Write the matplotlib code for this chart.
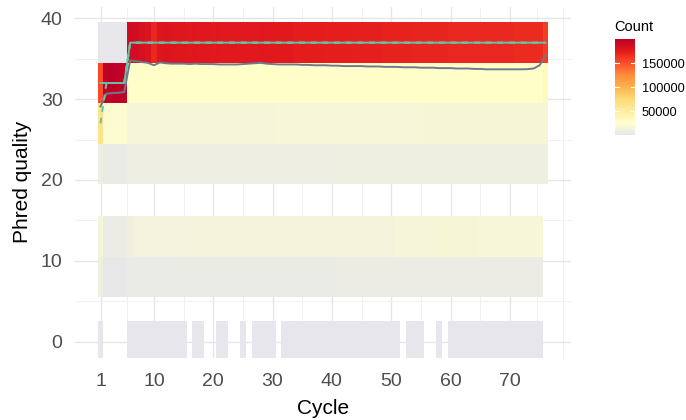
import numpy as np
import matplotlib.pyplot as plt
from matplotlib.colors import LinearSegmentedColormap

plt.rcParams['font.family'] = ['Liberation Sans', 'DejaVu Sans']

cycles = list(range(1, 77))
quals = [0, 8, 13, 22, 27, 32, 37]

# read counts per cycle, in thousands (None = no reads in that bin)
q0 = [0.5, None, None, None, None, 0.5, 0.5, 0.5, 0.5, 0.5,
      0.5, 0.5, 0.5, 0.5, 0.5, None, 0.5, 0.5, None, None,
      0.5, 0.5, None, None, 0.5, None, 0.5, 0.5, 0.5, 0.5,
      None, 0.5, 0.5, 0.5, 0.5, 0.5, 0.5, 0.5, 0.5, 0.5,
      0.5, 0.5, 0.5, 0.5, 0.5, 0.5, 0.5, 0.5, 0.5, 0.5,
      0.5, None, 0.5, 0.5, 0.5, None, None, 0.5, None, 0.5,
      0.5, 0.5, 0.5, 0.5, 0.5, 0.5, 0.5, 0.5, 0.5, 0.5,
      0.5, 0.5, 0.5, 0.5, 0.5, None]
q8 = [10, 3, 3, 3, 3, 4, 4, 4, 4, 4,
      4, 4, 5, 5, 5, 5, 5, 5, 5, 5,
      6, 6, 6, 6, 6, 6, 6, 6, 6, 6,
      6, 6, 6, 6, 6, 6, 6, 6, 6, 6,
      7, 7, 7, 7, 7, 7, 7, 7, 7, 7,
      7, 7, 7, 7, 7, 7, 7, 7, 7, 7,
      7, 7, 7, 7, 7, 7, 7, 7, 7, 7,
      7, 7, 7, 7, 7, None]
q13 = [15, 7, 7, 7, 7, 10, 12, 12, 12, 12,
       12, 12, 12, 12, 12, 13, 13, 13, 13, 13,
       13, 13, 13, 13, 13, 13, 13, 13, 13, 13,
       14, 14, 14, 14, 14, 14, 14, 14, 14, 14,
       14, 14, 14, 14, 14, 14, 14, 14, 14, 14,
       15, 15, 15, 15, 15, 15, 15, 17, 17, 17,
       17, 17, 17, 17, 16, 16, 16, 16, 16, 16,
       16, 16, 16, 16, 16, None]
q22 = [8, 6, 6, 6, 6, 8, 8, 8, 8, 8,
       8, 8, 8, 8, 8, 8, 8, 8, 8, 8,
       8, 8, 8, 8, 8, 8, 8, 8, 8, 8,
       8, 8, 8, 8, 8, 8, 8, 8, 8, 9,
       9, 9, 9, 9, 9, 9, 9, 9, 9, 9,
       9, 9, 9, 9, 9, 9, 9, 9, 9, 9,
       9, 9, 9, 9, 9, 9, 9, 9, 9, 9,
       9, 9, 9, 9, 9, 9]
q27 = [62, 22, 22, 22, 22, 15, 15, 15, 15, 15,
       15, 15, 15, 15, 15, 15, 15, 15, 15, 15,
       15, 15, 15, 15, 15, 15, 15, 15, 15, 15,
       16, 16, 16, 16, 16, 16, 16, 16, 16, 16,
       16, 16, 16, 16, 16, 16, 16, 16, 16, 16,
       16, 16, 16, 16, 16, 17, 17, 17, 17, 17,
       17, 17, 17, 17, 17, 17, 17, 17, 17, 17,
       17, 17, 17, 17, 17, 17]
q32 = [152, 199, 200, 199, 198, 27, 27, 27, 27, 28,
       27, 27, 27, 27, 27, 27, 27, 27, 27, 27,
       27, 27, 27, 27, 27, 27, 27, 27, 27, 27,
       27, 27, 27, 27, 27, 27, 27, 27, 27, 27,
       28, 28, 28, 28, 28, 28, 28, 28, 28, 28,
       28, 28, 28, 28, 28, 28, 28, 28, 28, 28,
       28, 28, 28, 28, 28, 28, 28, 28, 28, 28,
       28, 28, 28, 28, 29, 33]
q37 = [1, 1, 1, 1, 1, 188, 186, 184, 180, 168,
       179, 180, 179, 178, 178, 177, 178, 177, 177, 176,
       177, 176, 176, 176, 175, 176, 176, 177, 176, 175,
       175, 175, 175, 174, 174, 174, 174, 174, 173, 173,
       173, 173, 173, 172, 172, 172, 172, 172, 171, 171,
       171, 171, 171, 170, 170, 170, 170, 170, 170, 169,
       169, 169, 169, 168, 168, 168, 168, 168, 168, 168,
       167, 167, 167, 167, 166, 158]

mean_q = [29.1, 30.7, 30.75, 30.8, 30.9, 34.8, 34.7, 34.6, 34.5, 34.2,
          34.55, 34.45, 34.4, 34.4, 34.4, 34.35, 34.4, 34.35, 34.35, 34.35,
          34.3, 34.3, 34.3, 34.3, 34.35, 34.4, 34.45, 34.5, 34.4, 34.35,
          34.3, 34.3, 34.3, 34.3, 34.25, 34.25, 34.2, 34.2, 34.2, 34.15,
          34.15, 34.1, 34.1, 34.1, 34.1, 34.05, 34.05, 34.05, 34.0, 34.0,
          34.0, 33.95, 33.95, 33.95, 33.9, 33.9, 33.9, 33.85, 33.85, 33.85,
          33.8, 33.8, 33.8, 33.75, 33.75, 33.7, 33.7, 33.7, 33.7, 33.7,
          33.7, 33.7, 33.72, 33.8, 34.2, 35.45]
median_q = [32] * 5 + [37] * 71
q25 = [27] + [32] * 4 + [37] * 71
q75 = [32] * 5 + [37] * 71

# build the tile grid (gaps between quality bins stay empty)
rows = [q0, None, q8, q13, None, q22, q27, q32, q37]
y_edges = [-2.5, 2.5, 5.5, 10.5, 15.5, 19.5, 24.5, 29.5, 34.5, 39.5]
x_edges = np.arange(0.5, 77, 1.0)
grid = np.full((len(rows), len(cycles)), np.nan)
for i, r in enumerate(rows):
    if r is None:
        continue
    grid[i] = [np.nan if v is None else v * 1000 for v in r]
grid = np.ma.masked_invalid(grid)

cmap = LinearSegmentedColormap.from_list('cnt', ['#E6E6EC', '#FFFFCC', '#FFEDA0', '#FED976', '#FEB24C',
                                                 '#FD8D3C', '#FC4E2A', '#E31A1C', '#BD0026'])

fig = plt.figure(figsize=(6.86, 4.2), dpi=100)
ax = fig.add_axes([75/686, 1-357.5/420, 496/686, 351/420])

mesh = ax.pcolormesh(x_edges, y_edges, grid, cmap=cmap, vmin=0, vmax=200000,
                     antialiased=False, edgecolors='none', zorder=2)

ax.plot(cycles, mean_q, color='#6C7A8E', lw=1.4, zorder=3)
ax.plot(cycles, q25, color='#66C2A5', lw=1.4, ls=(0, (3, 3)), zorder=4)
ax.plot(cycles, q75, color='#66C2A5', lw=1.4, ls=(0, (3, 3)), zorder=4)
ax.plot(cycles, median_q, color='#66C2A5', lw=1.4, zorder=4)

ax.set_xlim(-3.3, 80.3)
ax.set_ylim(-1.975, 41.475)
ax.set_xticks([1, 10, 20, 30, 40, 50, 60, 70])
ax.set_xticks([5.5, 15, 25, 35, 45, 55, 65, 74.5, 79], minor=True)
ax.set_yticks([0, 10, 20, 30, 40])
ax.set_yticks([5, 15, 25, 35], minor=True)
ax.grid(True, which='major', color='#E6E6E6', lw=1.0, zorder=0)
ax.grid(True, which='minor', color='#EFEFEF', lw=0.6, zorder=0)
ax.set_axisbelow(True)
for s in ax.spines.values():
    s.set_visible(False)
ax.tick_params(which='both', length=0)
ax.tick_params(axis='x', labelsize=14, labelcolor='#4D4D4D', pad=11)
ax.tick_params(axis='y', labelsize=14, labelcolor='#4D4D4D', pad=9)
ax.set_xlabel('Cycle', fontsize=15, labelpad=7)
ax.set_ylabel('Phred quality', fontsize=15, labelpad=6)

# colour bar legend
cax = fig.add_axes([615/686, 1-135/420, 20/686, 96/420])
cb = fig.colorbar(mesh, cax=cax)
cb.outline.set_visible(False)
cb.set_ticks([50000, 100000, 150000])
cax.tick_params(length=0, labelsize=9.2, pad=5)
for v in [50000, 100000, 150000]:
    cax.axhline(v, xmin=0, xmax=0.2, color='white', lw=0.8)
    cax.axhline(v, xmin=0.8, xmax=1, color='white', lw=0.8)
fig.text(614/686, 1-31/420, 'Count', fontsize=10.5)

fig.savefig('out.png', dpi=100)
